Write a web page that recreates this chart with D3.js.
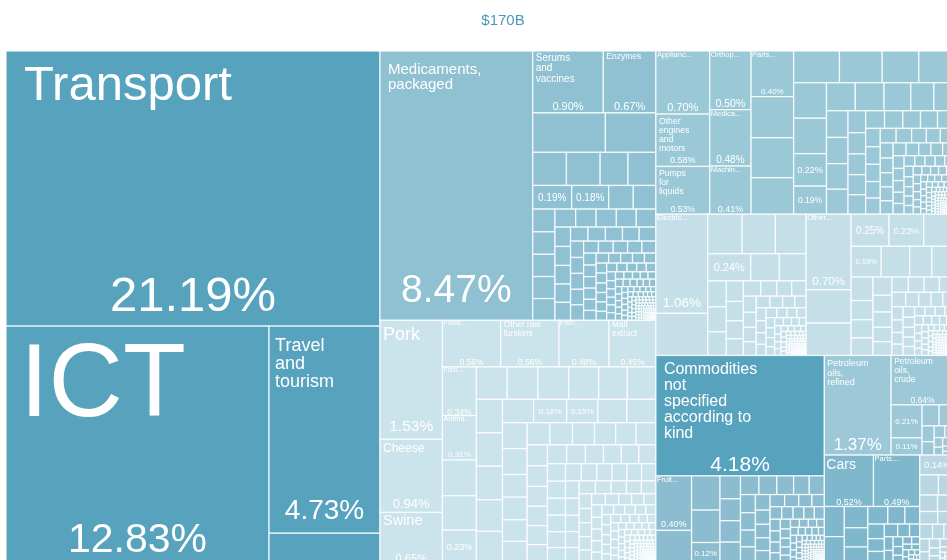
<!DOCTYPE html>
<html>
<head>
<meta charset="utf-8">
<style>
html,body{margin:0;padding:0;background:#fff;overflow:hidden}
svg{display:block;font-family:"Liberation Sans",Arial,sans-serif;filter:blur(0.4px)}
</style>
<script src="https://cdn.jsdelivr.net/npm/d3@7/dist/d3.min.js"></script>
</head>
<body>
<svg id="chart" width="947" height="560"></svg>
<script>
// ---- DATA (percent of total exports) ----
const chartTitle = "$170B";
const sectors = ["services","chem","machinery","electronics","food","minerals","metals","vehicles","misc"];
const sectorColors = ["#57a3bd","#8fc1d3","#9bc8d7","#c4dfe8","#cbe3ea","#9cc8d8","#8cbccf","#7fb7cc","#b8d7e2"];

const chemRow2 = [0.59,0.41];
const chemRow3 = [0.23,0.23,0.19,0.19];
const chemRow4 = [0.12,0.11];
const machRest = [0.30,0.28,0.24,0.23];
const machCol4 = [0.36,0.35,0.32];
const elecRow1 = [0.28,0.27,0.25];
const elecRow2 = [0.16,0.15];
const elecOther = [0.31,0.30];
const elecRow3 = [0.20];
const elecRow4 = [0.18,0.14,0.14];
const foodCol2 = [0.25,0.24];
const foodRow1 = [0.205,0.205,0.205,0.20,0.19,0.19];
const foodCol3 = [0.18,0.18,0.18,0.17,0.17];
const foodRow2a = [0.15];
const foodRow2b = [0.14,0.14];
const metalsCol2 = [0.20,0.19];

const tinyCells = [.0019,.0019,.0018,.0018,.0018,.0017,.0017,.0017,.0016,.0016,.0016,.0015,.0015,.0015,.0015,.0014,.0014,.0014,.0014,.0013,.0013,.0013,.0013,.0012,.0012,.0012,.0012,.0011,.0011,.0011,.0011,.001,.001,.001,.001,.001,.0009,.0009,.0009,.0009,.0009,.0008,.0008,.0008,.0008,.0008,.0007,.0007,.0007,.0007,.0007,.0007,.0006,.0006,.0006,.0006,.0006,.0006,.0005,.0005,.0005,.0005,.0005,.0005,.0004,.0004,.0004,.0004,.0004,.0004,.0003,.0003,.0003,.0003,.0003,.0003];
const chemTail = [.097,.096,.095,.094,.093,.072,.071,.070,.069,.068,.058,.057,.056,.055,.054,.047,.047,.046,.045,.045,.041,.040,.040,.039,.039,.034,.034,.033,.033,.032,.029,.028,.028,.027,.027,.024,.024,.023,.023,.023,.022,.020,.020,.019,.019,.019,.018,.017,.017,.016,.016,.016,.015,.014,.014,.013,.013,.013,.012,.012,.011,.011,.011,.011,.010,.010,.009,.009,.009,.009,.008,.008,.008,.008,.007,.007,.007,.007,.006,.006,.006,.006,.006,.005,.005,.005,.005,.005,.004,.004,.004,.004,.004,.004,.003,.003,.003,.003,.003,.003,.003,.003,.002,.002,.002,.002,.002,.002,.002,.002];
const machTail = [.150,.150,.140,.120,.105,.107,.105,.103,.100,.072,.070,.068,.066,.064,.062,.060,.058,.056,.054,.050,.048,.047,.045,.044,.043,.042,.040,.038,.037,.036,.035,.034,.033,.032,.031,.030,.029,.028,.027,.026,.025,.024,.023,.022,.021,.020,.020,.019,.018,.018,.017,.016,.016,.015,.014,.014,.013,.013,.012,.012,.011,.011,.010,.010,.009,.009,.009,.008,.008,.008,.007,.007,.007,.006,.006,.006,.006,.005,.005,.005,.005,.004,.004,.004,.004,.004,.003,.003,.003,.003,.003,.003,.002,.002,.002,.002,.002,.002,.002,.002];
const elecTailA = [.110,.105,.100,.080,.075,.070,.065,.060,.056,.052,.050,.047,.044,.042,.040,.036,.034,.032,.030,.029,.027,.026,.025,.024,.023,.022,.021,.020,.019,.018,.017,.016,.015,.014,.013,.012,.011,.010,.010,.009,.008,.008,.007,.007,.006,.006,.005,.005,.004,.004,.004,.003,.003,.003,.003,.002,.002,.002,.002,.002];
const elecTailB = [.110,.090,.085,.082,.074,.068,.062,.058,.056,.054,.052,.050,.048,.042,.040,.038,.036,.034,.032,.030,.028,.027,.026,.025,.024,.023,.022,.021,.020,.019,.018,.017,.016,.015,.014,.014,.013,.012,.011,.011,.010,.009,.009,.008,.008,.007,.007,.006,.006,.006,.005,.005,.005,.004,.004,.004,.004,.003,.003,.003,.003,.003,.002,.002,.002,.002,.002,.002,.002,.002];
const foodTail = [.120,.120,.105,.105,.100,.100,.095,.094,.092,.088,.086,.082,.080,.078,.076,.074,.072,.070,.068,.066,.064,.063,.062,.060,.059,.058,.057,.056,.054,.052,.051,.050,.049,.048,.047,.046,.045,.044,.042,.041,.040,.039,.038,.037,.036,.035,.034,.033,.032,.031,.030,.029,.028,.027,.026,.025,.024,.023,.023,.022,.021,.021,.020,.019,.019,.018,.017,.017,.016,.016,.015,.015,.014,.014,.013,.013,.012,.012,.012,.011,.011,.010,.010,.010,.009,.009,.009,.008,.008,.008,.007,.007,.007,.007,.006,.006,.006,.006,.005,.005,.005,.005,.004,.004,.004,.004,.004,.003,.003,.003,.003,.003,.003,.002,.002,.002,.002,.002,.002,.002,.002,.002];
const metalsTail = [.090,.086,.084,.082,.066,.064,.060,.056,.054,.052,.050,.048,.046,.044,.040,.038,.036,.035,.034,.033,.031,.029,.028,.027,.026,.025,.024,.023,.022,.021,.020,.019,.018,.017,.016,.015,.014,.014,.013,.012,.012,.011,.010,.010,.009,.009,.008,.008,.007,.007,.006,.006,.006,.005,.005,.005,.004,.004,.004,.003,.003,.003,.003,.002,.002,.002,.002,.002];
const carsTail = [.120,.105,.100,.090,.075,.070,.060,.052,.048,.042,.038,.034,.030,.026,.024,.022,.019,.017,.015,.013,.012,.010,.009,.008,.007,.006,.005,.004,.004,.003,.003,.002,.002];
const miscTail = [.090,.075,.070,.065,.055,.050,.045,.040,.035,.030,.026,.023,.020,.018,.015,.012,.010,.008,.007,.006,.005,.004,.004,.003,.003,.002,.002];
const petroTail = [.075,.065,.040,.034,.026,.022,.017,.014,.011,.009,.007,.005,.004,.003,.002];

// font size of name, name baseline offset, name left offset, percent size, percent bottom offset
const labelStyles = {
  "Transport":[49,49,18,49,15], "ICT":[103,90,14,41,11], "Travel\nand\ntourism":[18,25,6,28,14],
  "Medicaments,\npackaged":[15,23,8,39,18], "Serums\nand\nvaccines":[10,10,3,11,2.5], "Enzymes":[8.5,8,3,11,2.5],
  "Applianc...":[7.5,6,1,11,3], "Orthop...":[7.5,6,1,10.5,3], "Parts...":[7.5,6,1,8,3], "Medica...":[7.5,6,1,10,3],
  "Other\nengines\nand\nmotors":[8.7,9.5,3,9,3], "Pumps\nfor\nliquids":[8.7,9.5,3,8.5,2], "Machin...":[7.5,6,1,9,2],
  "Electric...":[7.5,6,1,13.5,6], "Other...":[7.5,6,1,11.5,5],
  "Commodities\nnot\nspecified\naccording to\nkind":[16,19,8,21,5],
  "Petroleum\noils,\nrefined":[9,11,3,17,5], "Petroleum\noils,\ncrude":[8.5,9,3,8.5,2],
  "Cars":[14,14,2,9,2], "Parts....":[7.5,6,1,9,2], "Fruit...":[7.5,6,1,9,3],
  "Pork":[18,20,3,15.5,8], "Cheese":[12,13,3,13,4], "Swine":[14.5,13,3,11,1],
  "Food...":[7.5,5,1,8.5,2], "Other raw\nfurskins":[8.4,7,3,8.5,2], "Fish...":[7.5,5,1,8.5,2], "Malt\nextract":[8.4,7,3,8.5,2],
  "Fish....":[7.5,5,1,8.5,1], "Anima...":[7.5,5,1,8,3]
};
const percentOnlySizes = {"0.19":10,"0.18":10,"0.22":9,"0.19m":8.5,"0.24":11,"0.25":10,"0.23e":9,"0.19e":7.5,"0.21":8,"0.11":8,"0.14":9,"0.12":8,"0.16":8,"0.15":8,"0.23":9};

// ---- LAYOUT TREE ----
const L = (name, v, pct) => ({name, value: v, pct: pct || v.toFixed(2) + "%"});
const P = (v, key) => ({value: v, pct: v.toFixed(2) + "%", key: key || v.toFixed(2)});
const U = v => ({value: v});
const wrap = k => typeof k === "number" ? U(k) : k;
const row = (...kids) => ({dir: "x", children: kids.map(wrap)});
const col = (...kids) => ({dir: "y", children: kids.map(wrap)});
const sq = (list, share) => {
  const s = d3.sum(list);
  return {dir: "s", children: list.map(v => U(v * share / s))};
};
const sect = (sector, node) => Object.assign(node, {sector});

const tree = row(
  sect("services", col(
    L("Transport", 21.19),
    row(L("ICT", 12.83), col(L("Travel\nand\ntourism", 4.73), 0.68))
  )),
  col(
    sect("chem", row(
      L("Medicaments,\npackaged", 8.47),
      col(
        row(L("Serums\nand\nvaccines", 0.90), L("Enzymes", 0.67)),
        row(...chemRow2),
        row(...chemRow3),
        row(P(0.19), P(0.18), ...chemRow4),
        sq([...chemTail, ...tinyCells], 2.82)
      )
    )),
    sect("food", row(
      col(L("Pork", 1.53), L("Cheese", 0.94), L("Swine", 0.65)),
      col(
        row(L("Food...", 0.56), L("Other raw\nfurskins", 0.56), L("Fish...", 0.48), L("Malt\nextract", 0.45)),
        row(
          col(L("Fish....", 0.34), L("Anima...", 0.31), ...foodCol2, P(0.23)),
          col(
            row(...foodRow1),
            row(
              col(...foodCol3),
              col(
                row(...foodRow2a, P(0.16), P(0.15), ...foodRow2b),
                sq([...foodTail, ...tinyCells], 4.43)
              )
            )
          )
        )
      )
    ))
  ),
  col(
    sect("machinery", row(
      col(L("Applianc...", 0.70), L("Other\nengines\nand\nmotors", 0.58), L("Pumps\nfor\nliquids", 0.53)),
      col(L("Orthop...", 0.50), L("Medica...", 0.48), L("Machin...", 0.41)),
      col(L("Parts...", 0.40), ...machCol4),
      col(
        row(...machRest),
        row(
          col(0.24, 0.24, P(0.22), P(0.19, "0.19m")),
          sq([...machTail, ...tinyCells], 3.45)
        )
      )
    )),
    sect("electronics", row(
      col(L("Electric...", 1.06), 0.45),
      col(
        row(...elecRow1),
        row(P(0.24), ...elecRow2),
        sq([...elecTailA, ...tinyCells], 1.51)
      ),
      col(L("Other...", 0.70), ...elecOther),
      col(
        row(P(0.25), P(0.23, "0.23e"), ...elecRow3),
        row(P(0.19, "0.19e"), ...elecRow4),
        sq([...elecTailB, ...tinyCells], 1.66)
      )
    )),
    row(
      col(
        sect("services", L("Commodities\nnot\nspecified\naccording to\nkind", 4.18)),
        sect("metals", row(
          col(L("Fruit...", 0.40), 0.24),
          col(...metalsCol2, P(0.12)),
          sq([...metalsTail, ...tinyCells], 1.87)
        ))
      ),
      col(
        sect("minerals", row(
          L("Petroleum\noils,\nrefined", 1.37),
          col(
            L("Petroleum\noils,\ncrude", 0.64),
            row(col(P(0.21), P(0.11)), sq(petroTail, 0.33))
          )
        )),
        row(
          sect("vehicles", col(
            row(L("Cars", 0.52), L("Parts....", 0.49)),
            sq(carsTail, 1.11)
          )),
          sect("misc", col(P(0.14), sq(miscTail, 0.62)))
        )
      )
    )
  )
);

// ---- DRAW ----
const svg = d3.select("#chart");
const plot = {left: 6, top: 51, width: 948, height: 512};
const color = d3.scaleOrdinal(sectors, sectorColors);
const squareTile = d3.treemapSquarify.ratio(1);

const tile = (node, x0, y0, x1, y1) => {
  const dir = node.data.dir;
  if (dir === "x") d3.treemapDice(node, x0, y0, x1, y1);
  else if (dir === "y") d3.treemapSlice(node, x0, y0, x1, y1);
  else squareTile(node, x0, y0, x1, y1);
};
const root = d3.hierarchy(tree).sum(d => d.children ? 0 : d.value);
d3.treemap().size([plot.width, plot.height]).tile(tile)(root);

const sectorOf = n => { for (let a = n; a; a = a.parent) if (a.data.sector) return a.data.sector; return "misc"; };
const leaves = root.leaves();

svg.append("text").attr("x", 503).attr("y", 25).attr("text-anchor", "middle")
  .attr("font-size", 15).attr("fill", "#4d9ab5").text(chartTitle);

const g = svg.append("g").attr("transform", `translate(${plot.left},${plot.top})`);
g.selectAll("rect").data(leaves).join("rect")
  .attr("x", d => d.x0).attr("y", d => d.y0)
  .attr("width", d => d.x1 - d.x0).attr("height", d => d.y1 - d.y0)
  .attr("fill", d => color(sectorOf(d)))
  .attr("stroke", "#fff").attr("stroke-opacity", 0.8).attr("stroke-width", 1.3);

const labelled = leaves.filter(d => d.data.pct);
const t = g.selectAll("g.label").data(labelled).join("g").attr("class", "label").attr("fill", "#fff");
t.each(function (d) {
  const sel = d3.select(this);
  const cx = (d.x0 + d.x1) / 2;
  if (d.data.name) {
    const [ns, nb, dx, ps, pad] = labelStyles[d.data.name];
    const lh = ns < 12 ? Math.max(ns + 0.3, 9) : ns;
    d.data.name.split("\n").forEach((line, i) => {
      sel.append("text").attr("x", d.x0 + dx).attr("y", d.y0 + nb + i * lh)
        .attr("font-size", ns).text(line);
    });
    sel.append("text").attr("x", cx).attr("y", d.y1 - pad).attr("text-anchor", "middle")
      .attr("font-size", ps).text(d.data.pct);
  } else {
    const ps = percentOnlySizes[d.data.key] || 9;
    sel.append("text").attr("x", cx).attr("y", (d.y0 + d.y1) / 2 + ps * 0.36).attr("text-anchor", "middle")
      .attr("font-size", ps).text(d.data.pct);
  }
});
</script>
</body>
</html>
